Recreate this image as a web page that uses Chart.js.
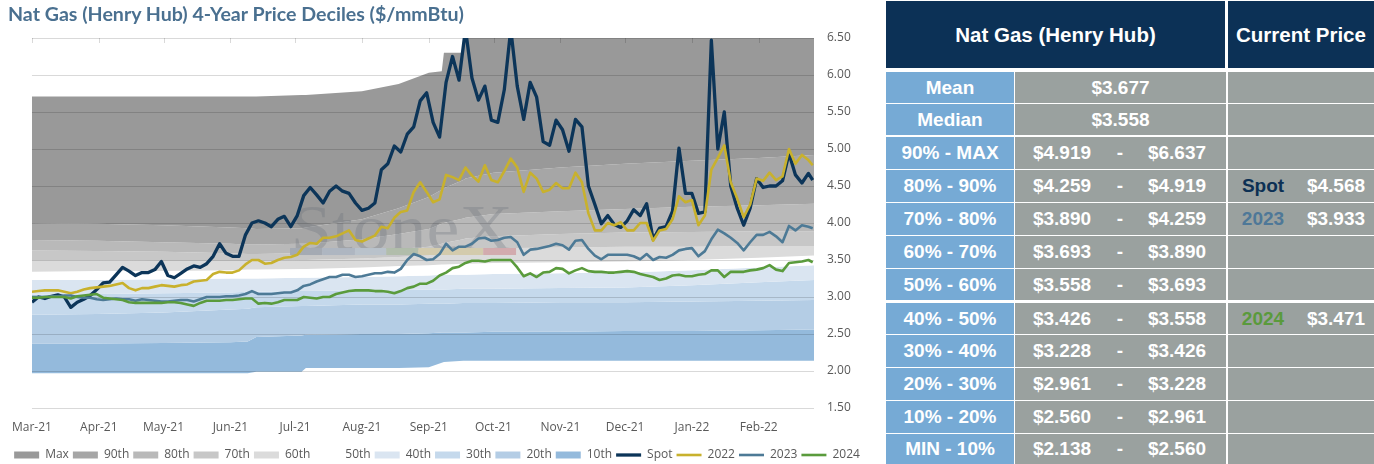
<!DOCTYPE html>
<html>
<head>
<meta charset="utf-8">
<title>Nat Gas (Henry Hub) 4-Year Price Deciles</title>
<script src="https://cdn.jsdelivr.net/npm/chart.js@4.4.1/dist/chart.umd.min.js"></script>
<style>
  html, body { margin: 0; padding: 0; background: #fff; }
  body { position: relative; width: 1374px; height: 464px; overflow: hidden; }
  #title { position: absolute; left: 8px; top: 2px; font: bold 19.6px Lato, sans-serif; color: #4a7090; white-space: nowrap; z-index: 2; }
  #chartBox { position: absolute; left: 0; top: 0; width: 874px; height: 471px; }
  #tbl { position: absolute; left: 886px; top: 0; width: 488px; height: 464px;
         font-family: "Liberation Sans", Arial, sans-serif; font-weight: bold; color: #fff; }
  .c { position: absolute; text-align: center; white-space: nowrap; overflow: hidden; }
  .hd { background: #0c3156; font-size: 20.5px; }
  .lb { background: #76aad5; font-size: 19px; }
  .vl { background: #9aa19f; font-size: 19px; }
  .s { position: absolute; top: 0; text-align: center; }
</style>
</head>
<body>
<div id="title">Nat Gas (Henry Hub) 4-Year Price Deciles ($/mmBtu)</div>
<div id="chartBox"><canvas id="gasChart"></canvas></div>
<div id="tbl"></div>
<script>
// x = days since 1 Mar 2021
const monthDays = [0, 31, 61, 92, 122, 153, 184, 214, 245, 275, 306, 337];
const monthLabels = ['Mar-21', 'Apr-21', 'May-21', 'Jun-21', 'Jul-21', 'Aug-21', 'Sep-21', 'Oct-21', 'Nov-21', 'Dec-21', 'Jan-22', 'Feb-22'];

const days = [
  0, 3, 6, 9, 12, 15, 18, 21, 24, 27,
  30, 33, 36, 39, 42, 45, 48, 51, 54, 57,
  60, 63, 66, 69, 72, 75, 78, 81, 84, 87,
  90, 93, 96, 99, 102, 105, 108, 111, 114, 117,
  120, 123, 126, 129, 132, 135, 138, 141, 144, 147,
  150, 153, 156, 159, 162, 165, 168, 171, 174, 177,
  180, 183, 186, 189, 192, 195, 198, 201, 204, 207,
  210, 213, 216, 219, 222, 225, 228, 231, 234, 237,
  240, 243, 246, 249, 252, 255, 258, 261, 264, 267,
  270, 273, 276, 279, 282, 285, 288, 291, 294, 297,
  300, 303, 306, 309, 312, 315, 318, 321, 324, 327,
  330, 333, 336, 339, 342, 345, 348, 351, 354, 357,
  360, 362
];

const spot = [
  2.93, 3.00, 2.98, 3.01, 3.03, 3.00, 2.86, 2.93, 2.97, 3.02,
  3.10, 3.19, 3.20, 3.30, 3.40, 3.35, 3.29, 3.33, 3.33, 3.37,
  3.48, 3.29, 3.26, 3.32, 3.38, 3.42, 3.40, 3.45, 3.55, 3.72,
  3.59, 3.55, 3.55, 3.84, 4.00, 4.03, 4.00, 3.95, 4.05, 4.09,
  3.95, 4.10, 4.37, 4.48, 4.38, 4.27, 4.43, 4.50, 4.43, 4.40,
  4.27, 4.17, 4.20, 4.27, 4.72, 4.80, 5.04, 4.96, 5.20, 5.30,
  5.65, 5.76, 5.36, 5.16, 5.90, 6.25, 5.93, 6.62, 5.96, 5.66,
  5.85, 5.39, 5.36, 5.80, 6.62, 5.85, 5.40, 5.90, 5.70, 5.10,
  5.05, 5.39, 5.26, 4.97, 5.40, 5.30, 4.50, 4.25, 3.99, 4.10,
  3.98, 3.94, 4.03, 4.18, 4.10, 4.26, 3.78, 3.93, 3.95, 4.16,
  5.01, 4.40, 4.40, 4.13, 4.15, 6.47, 5.00, 5.50, 4.50, 4.20,
  3.97, 4.20, 4.60, 4.48, 4.50, 4.50, 4.57, 4.94, 4.65, 4.54,
  4.67, 4.58
];

const y2022 = [
  3.07, 3.08, 3.09, 3.09, 3.09, 3.07, 3.05, 3.07, 3.10, 3.12,
  3.13, 3.14, 3.15, 3.17, 3.19, 3.12, 3.09, 3.12, 3.12, 3.14,
  3.16, 3.15, 3.14, 3.16, 3.17, 3.21, 3.22, 3.23, 3.31, 3.34,
  3.33, 3.33, 3.36, 3.44, 3.50, 3.50, 3.45, 3.46, 3.50, 3.53,
  3.54, 3.57, 3.68, 3.73, 3.72, 3.80, 3.80, 3.82, 3.86, 3.90,
  3.77, 3.75, 3.79, 3.83, 3.95, 3.93, 4.07, 4.15, 4.17, 4.42,
  4.55, 4.42, 4.28, 4.32, 4.65, 4.62, 4.58, 4.75, 4.64, 4.56,
  4.78, 4.58, 4.55, 4.70, 4.87, 4.75, 4.42, 4.68, 4.60, 4.42,
  4.45, 4.54, 4.47, 4.47, 4.68, 4.55, 4.13, 3.90, 3.90, 4.00,
  3.97, 4.01, 3.90, 3.90, 4.00, 4.00, 3.76, 3.90, 3.92, 4.05,
  4.36, 4.28, 4.31, 3.97, 4.10, 4.72, 4.88, 5.05, 4.55, 4.33,
  4.08, 4.25, 4.60, 4.57, 4.68, 4.58, 4.63, 5.00, 4.80, 4.92,
  4.85, 4.78
];

const y2023 = [
  3.00, 3.00, 3.00, 3.01, 3.01, 3.02, 3.02, 3.00, 2.99, 2.99,
  2.97, 2.96, 2.97, 2.98, 2.97, 2.97, 2.95, 2.97, 2.96, 2.95,
  2.94, 2.94, 2.95, 2.96, 2.96, 2.94, 2.97, 3.00, 3.00, 3.00,
  3.01, 3.01, 3.02, 3.04, 3.08, 3.04, 3.04, 3.04, 3.05, 3.06,
  3.06, 3.09, 3.15, 3.17, 3.21, 3.24, 3.27, 3.27, 3.30, 3.30,
  3.27, 3.28, 3.30, 3.32, 3.32, 3.34, 3.33, 3.38, 3.50, 3.58,
  3.55, 3.50, 3.51, 3.58, 3.72, 3.63, 3.68, 3.68, 3.72, 3.79,
  3.80, 3.76, 3.77, 3.80, 3.81, 3.74, 3.57, 3.64, 3.65, 3.67,
  3.69, 3.72, 3.70, 3.64, 3.76, 3.77, 3.65, 3.56, 3.51, 3.57,
  3.57, 3.57, 3.57, 3.55, 3.51, 3.58, 3.50, 3.54, 3.53, 3.57,
  3.63, 3.65, 3.66, 3.55, 3.62, 3.78, 3.91, 3.86, 3.80, 3.73,
  3.63, 3.74, 3.84, 3.84, 3.88, 3.82, 3.74, 3.96, 3.90, 3.97,
  3.95, 3.93
];

const y2024 = [
  2.99, 2.99, 3.00, 3.00, 3.00, 3.00, 2.98, 3.01, 3.02, 3.03,
  3.04, 2.99, 2.98, 2.97, 2.96, 2.93, 2.92, 2.92, 2.92, 2.92,
  2.92, 2.93, 2.93, 2.92, 2.90, 2.88, 2.92, 2.95, 2.95, 2.95,
  2.96, 2.96, 2.97, 2.98, 2.98, 2.91, 2.92, 2.91, 2.93, 2.96,
  2.96, 2.96, 3.00, 2.99, 2.98, 3.00, 3.00, 3.04, 3.06, 3.08,
  3.09, 3.09, 3.09, 3.08, 3.08, 3.07, 3.05, 3.08, 3.12, 3.14,
  3.18, 3.18, 3.22, 3.29, 3.33, 3.39, 3.41, 3.46, 3.49, 3.49,
  3.48, 3.50, 3.50, 3.50, 3.50, 3.40, 3.28, 3.32, 3.27, 3.33,
  3.34, 3.39, 3.38, 3.32, 3.36, 3.39, 3.35, 3.34, 3.34, 3.33,
  3.33, 3.34, 3.35, 3.34, 3.31, 3.29, 3.27, 3.23, 3.25, 3.29,
  3.30, 3.28, 3.28, 3.30, 3.31, 3.36, 3.36, 3.27, 3.34, 3.34,
  3.34, 3.36, 3.37, 3.39, 3.43, 3.37, 3.35, 3.46, 3.47, 3.48,
  3.50, 3.47
];

// rolling 4-year decile boundaries
const bandDays = [0, 30, 61, 92, 100, 104, 125, 127, 153, 170, 184, 190, 191, 200, 201, 214, 245, 275, 306, 337, 363];
const pMin = [1.97, 1.97, 1.97, 1.97, 1.97, 1.99, 1.99, 2.04, 2.04, 2.04, 2.05, 2.11, 2.12, 2.14, 2.14, 2.14, 2.14, 2.14, 2.14, 2.14, 2.14];
const p10  = [2.37, 2.37, 2.38, 2.39, 2.40, 2.46, 2.48, 2.49, 2.50, 2.50, 2.51, 2.52, 2.52, 2.52, 2.52, 2.53, 2.53, 2.54, 2.54, 2.55, 2.56];
const p20  = [2.76, 2.77, 2.79, 2.83, 2.84, 2.86, 2.88, 2.88, 2.90, 2.90, 2.91, 2.91, 2.91, 2.92, 2.92, 2.92, 2.93, 2.93, 2.94, 2.95, 2.96];
const p30  = [3.03, 3.04, 3.05, 3.06, 3.07, 3.07, 3.08, 3.08, 3.09, 3.09, 3.10, 3.10, 3.10, 3.11, 3.11, 3.11, 3.12, 3.13, 3.16, 3.20, 3.23];
const p40  = [3.23, 3.23, 3.24, 3.25, 3.25, 3.25, 3.26, 3.26, 3.27, 3.28, 3.29, 3.30, 3.30, 3.30, 3.30, 3.31, 3.32, 3.33, 3.36, 3.40, 3.43];
const p50  = [3.34, 3.35, 3.35, 3.36, 3.37, 3.37, 3.38, 3.38, 3.40, 3.42, 3.43, 3.44, 3.44, 3.45, 3.45, 3.46, 3.47, 3.48, 3.50, 3.53, 3.56];
const p60  = [3.50, 3.50, 3.49, 3.49, 3.49, 3.49, 3.50, 3.50, 3.52, 3.54, 3.56, 3.59, 3.60, 3.63, 3.64, 3.66, 3.67, 3.68, 3.68, 3.69, 3.69];
const p70  = [3.63, 3.62, 3.61, 3.59, 3.58, 3.58, 3.59, 3.59, 3.62, 3.65, 3.68, 3.72, 3.73, 3.78, 3.79, 3.82, 3.85, 3.87, 3.88, 3.89, 3.89];
const p80  = [3.77, 3.76, 3.74, 3.72, 3.71, 3.71, 3.72, 3.72, 3.78, 3.85, 3.92, 3.99, 4.00, 4.06, 4.07, 4.12, 4.16, 4.19, 4.22, 4.24, 4.26];
const p90  = [4.00, 3.99, 3.97, 3.94, 3.93, 3.92, 3.93, 3.94, 4.05, 4.20, 4.35, 4.45, 4.47, 4.58, 4.60, 4.68, 4.75, 4.80, 4.84, 4.88, 4.92];
const pMax = [5.71, 5.71, 5.71, 5.71, 5.71, 5.71, 5.73, 5.73, 5.78, 5.88, 6.03, 6.05, 6.30, 6.30, 6.64, 6.64, 6.64, 6.64, 6.64, 6.64, 6.64];

// table on the right
const statNames = ['Mean', 'Median'];
const statPrices = [3.677, 3.558];
const rangeNames = ['90% - MAX', '80% - 90%', '70% - 80%', '60% - 70%', '50% - 60%', '40% - 50%', '30% - 40%', '20% - 30%', '10% - 20%', 'MIN - 10%'];
const rangeLow  = [4.919, 4.259, 3.890, 3.693, 3.558, 3.426, 3.228, 2.961, 2.560, 2.138];
const rangeHigh = [6.637, 4.919, 4.259, 3.890, 3.693, 3.558, 3.426, 3.228, 2.961, 2.560];
const currentNames = ['Spot', '2023', '2024'];
const currentPrices = [4.568, 3.933, 3.471];
const currentRange = ['80% - 90%', '70% - 80%', '40% - 50%'];
const currentColors = ['#0c3054', '#4e7898', '#5a9a3c'];

const bandNames = ['Max', '90th', '80th', '70th', '60th', '50th', '40th', '30th', '20th', '10th'];
const bandTops = [pMax, p90, p80, p70, p60, p50, p40, p30, p20, p10];
const bandColors = ['#999999', '#a6a6a6', '#b9b9b9', '#c7c7c7', '#dbdbdb', '#ffffff', '#dae5f1', '#c5d9ec', '#b4cde5', '#94badc'];

const pts = (xs, ys) => ys.map((v, i) => ({x: xs[i], y: v}));
const money = v => '$' + v.toFixed(3);

// ---- table ----
const tbl = document.getElementById('tbl');
function box(cls, left, top, width, height, html) {
  const d = document.createElement('div');
  d.className = 'c ' + cls;
  d.style.cssText = 'left:' + left + 'px;top:' + top + 'px;width:' + width + 'px;height:' + height + 'px;line-height:' + height + 'px;';
  d.innerHTML = html;
  tbl.appendChild(d);
}
box('hd', 0, 1, 339, 67, 'Nat Gas (Henry Hub)');
box('hd', 342, 1, 146, 67, 'Current Price');

const rowTop = [72, 104, 137, 170, 203, 236, 269, 303, 335, 368, 401, 434];
const rowH   = [31, 31, 32, 32, 32, 32, 31, 31, 32, 32, 32, 30];
const span = (left, width, text, color) =>
  '<span class="s" style="left:' + left + 'px;width:' + width + 'px;' + (color ? 'color:' + color : '') + '">' + text + '</span>';

statNames.forEach((name, i) => {
  box('lb', 0, rowTop[i], 128, rowH[i], name);
  box('vl', 129, rowTop[i], 211, rowH[i], money(statPrices[i]));
  box('vl', 342, rowTop[i], 146, rowH[i], '');
});
rangeNames.forEach((name, j) => {
  const i = j + 2;
  box('lb', 0, rowTop[i], 128, rowH[i], name);
  box('vl', 129, rowTop[i], 211, rowH[i],
      span(0, 94, money(rangeLow[j])) + span(94, 22, '-') + span(116, 92, money(rangeHigh[j])));
  const k = currentRange.indexOf(name);
  box('vl', 342, rowTop[i], 146, rowH[i],
      k < 0 ? '' : span(0, 70, currentNames[k], currentColors[k]) + span(70, 76, money(currentPrices[k])));
});

// ---- chart ----
Chart.defaults.font.family = '"Open Sans", sans-serif';
Chart.defaults.font.size = 12;
Chart.defaults.color = '#595959';

const datasets = bandNames.map((name, i) => ({
  label: name,
  data: pts(bandDays, bandTops[i]),
  backgroundColor: bandColors[i],
  borderColor: 'rgba(0,0,0,0)',
  borderWidth: 0,
  pointStyle: 'rect',
  fill: i < 9 ? i + 1 : 14,
  order: 10,
  yAxisID: 'y'
}));
const lineSeries = [
  ['Spot', spot, '#0c3559', 3.3, 3],
  ['2022', y2022, '#c8b12d', 2.6, 2],
  ['2023', y2023, '#4d7a96', 2.6, 1],
  ['2024', y2024, '#5a9b3c', 2.6, 0]
];
lineSeries.forEach(([name, vals, color, width, order]) => {
  datasets.push({
    label: name,
    data: pts(days, vals),
    borderColor: color,
    backgroundColor: color,
    borderWidth: width,
    pointStyle: 'line',
    fill: false,
    clip: 0,
    order: order,
    yAxisID: 'y'
  });
});
datasets.push({
  label: 'Min',
  data: pts(bandDays, pMin),
  borderColor: 'rgba(0,0,0,0)',
  backgroundColor: 'rgba(0,0,0,0)',
  borderWidth: 0,
  fill: false,
  order: 10,
  yAxisID: 'y'
});

// grid lines + watermark go on top of the bands but under the price lines
const backdrop = {
  id: 'backdrop',
  beforeDatasetDraw(chart, args) {
    if (args.index !== 10) return;
    const {ctx, chartArea: a, scales} = chart;
    const w = a.right - a.left, h = a.bottom - a.top;
    ctx.save();

    ctx.font = '66px "Liberation Serif", serif';
    const txt = 'StoneX';
    const tw = ctx.measureText(txt).width;
    ctx.save();
    ctx.translate(a.left + w * 0.473, a.top + h * 0.527);
    ctx.scale(w * 0.284 / tw, 1);
    ctx.textAlign = 'center';
    ctx.fillStyle = 'rgba(105,112,122,0.3)';
    ctx.fillText(txt, 0, 0);
    ctx.restore();

    const cuts = [0.330, 0.371, 0.413, 0.453, 0.494, 0.577, 0.619];
    const barColors = ['#a4aab3', '#aeb6c1', '#b9c2cb', '#b1bdab', '#d3cbad', '#d2abae'];
    barColors.forEach((c, i) => {
      ctx.fillStyle = c;
      ctx.fillRect(a.left + w * cuts[i], a.top + h * 0.5676, w * (cuts[i + 1] - cuts[i]), 7);
    });

    ctx.strokeStyle = 'rgba(0,0,0,0.15)';
    ctx.lineWidth = 1;
    ctx.beginPath();
    scales.y.ticks.forEach(t => {
      const py = Math.round(scales.y.getPixelForValue(t.value)) + 0.5;
      ctx.moveTo(a.left, py);
      ctx.lineTo(a.right, py);
    });
    scales.x.ticks.forEach(t => {
      const px = Math.round(scales.x.getPixelForValue(t.value)) + 0.5;
      ctx.moveTo(px, a.top);
      ctx.lineTo(px, a.top + 5);
    });
    ctx.stroke();
    ctx.restore();
  }
};

new Chart(document.getElementById('gasChart'), {
  type: 'line',
  data: { datasets },
  options: {
    responsive: true,
    maintainAspectRatio: false,
    animation: false,
    events: [],
    layout: { padding: { top: 38, left: 0, right: 0, bottom: 0 } },
    elements: {
      point: { radius: 0, hoverRadius: 0 },
      line: { tension: 0, borderJoinStyle: 'round' }
    },
    scales: {
      x: {
        type: 'linear',
        min: 0,
        max: 362.6,
        grid: { display: false, drawTicks: false },
        border: { display: false },
        afterBuildTicks: s => { s.ticks = monthDays.map(v => ({value: v})); },
        afterFit: s => { s.height = 28; },
        ticks: {
          autoSkip: false,
          maxRotation: 0,
          padding: 12,
          color: '#595959',
          callback: (v, i) => monthLabels[i]
        }
      },
      y: {
        position: 'right',
        min: 1.5,
        max: 6.5,
        grid: { display: false, drawTicks: false },
        border: { display: false },
        afterFit: s => { s.width = 60; },
        ticks: {
          stepSize: 0.5,
          padding: 13,
          color: '#595959',
          callback: v => v.toFixed(2)
        }
      },
      yl: {
        position: 'left',
        grid: { display: false, drawTicks: false },
        border: { display: false },
        ticks: { display: false },
        afterFit: s => { s.width = 29; }
      }
    },
    plugins: {
      tooltip: { enabled: false },
      legend: {
        position: 'bottom',
        title: { display: true, text: '', font: { size: 1 }, padding: { top: 0, bottom: 7.8 } },
        labels: {
          usePointStyle: true,
          pointStyleWidth: 25,
          boxHeight: 7,
          padding: 4,
          color: '#595959',
          filter: item => item.datasetIndex !== 14,
          sort: (a, b) => a.datasetIndex - b.datasetIndex
        }
      }
    }
  },
  plugins: [backdrop]
});
</script>
</body>
</html>
